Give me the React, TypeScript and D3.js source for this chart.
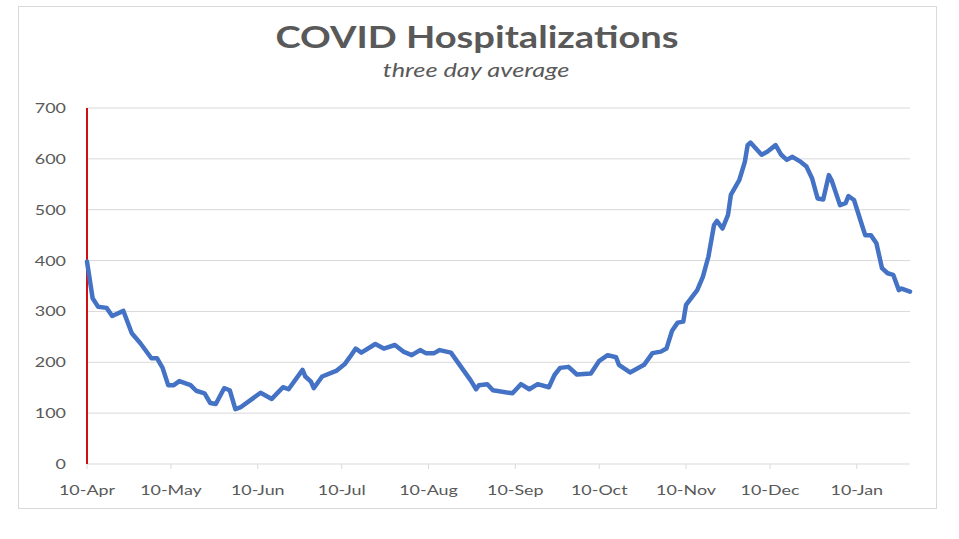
import React from 'react';
import * as d3 from 'd3';

const dates = [
  '2020-04-10', '2020-04-12', '2020-04-14', '2020-04-17', '2020-04-19', '2020-04-23', '2020-04-26', '2020-04-29',
  '2020-05-03', '2020-05-05', '2020-05-07', '2020-05-09', '2020-05-11', '2020-05-13', '2020-05-17', '2020-05-19',
  '2020-05-22', '2020-05-24', '2020-05-26', '2020-05-29', '2020-05-31', '2020-06-02', '2020-06-04', '2020-06-11',
  '2020-06-15', '2020-06-19', '2020-06-21', '2020-06-26', '2020-06-27', '2020-06-29', '2020-06-30', '2020-07-03',
  '2020-07-08', '2020-07-11', '2020-07-13', '2020-07-15', '2020-07-17', '2020-07-22', '2020-07-25', '2020-07-29',
  '2020-08-01', '2020-08-04', '2020-08-07', '2020-08-09', '2020-08-12', '2020-08-14', '2020-08-18', '2020-08-22',
  '2020-08-25', '2020-08-27', '2020-08-28', '2020-08-31', '2020-09-02', '2020-09-09', '2020-09-12', '2020-09-15',
  '2020-09-18', '2020-09-22', '2020-09-24', '2020-09-26', '2020-09-29', '2020-10-02', '2020-10-07', '2020-10-10',
  '2020-10-13', '2020-10-16', '2020-10-17', '2020-10-21', '2020-10-26', '2020-10-29', '2020-11-01', '2020-11-03',
  '2020-11-05', '2020-11-07', '2020-11-09', '2020-11-10', '2020-11-14', '2020-11-16', '2020-11-18', '2020-11-20',
  '2020-11-21', '2020-11-23', '2020-11-25', '2020-11-26', '2020-11-29', '2020-12-01', '2020-12-02', '2020-12-03',
  '2020-12-06', '2020-12-07', '2020-12-09', '2020-12-12', '2020-12-14', '2020-12-16', '2020-12-18', '2020-12-21',
  '2020-12-23', '2020-12-25', '2020-12-27', '2020-12-29', '2020-12-31', '2021-01-01', '2021-01-04', '2021-01-06',
  '2021-01-07', '2021-01-09', '2021-01-12', '2021-01-13', '2021-01-15', '2021-01-17', '2021-01-19', '2021-01-21',
  '2021-01-23', '2021-01-25', '2021-01-26', '2021-01-29',
];

const hospitalizations = [
  398, 326, 309, 307, 291, 301, 257, 238,
  208, 208, 189, 155, 155, 163, 155, 144,
  139, 120, 118, 149, 145, 108, 112, 140,
  128, 151, 147, 185, 172, 162, 149, 172,
  183, 196, 211, 227, 219, 236, 227, 234,
  221, 214, 224, 218, 218, 224, 219, 188,
  165, 147, 155, 157, 145, 139, 157, 147,
  157, 151, 175, 189, 191, 176, 178, 203,
  214, 210, 195, 180, 195, 218, 221, 227,
  262, 278, 280, 313, 342, 368, 408, 470,
  478, 463, 490, 529, 558, 594, 627, 632,
  614, 608, 614, 627, 608, 598, 604, 594,
  585, 562, 522, 520, 568, 558, 509, 513,
  527, 519, 467, 450, 450, 434, 385, 375,
  372, 342, 345, 339,
];

const tickDates = [
  '2020-04-10', '2020-05-10', '2020-06-10', '2020-07-10', '2020-08-10',
  '2020-09-10', '2020-10-10', '2020-11-10', '2020-12-10', '2021-01-10',
];
const tickLabels = ['10-Apr', '10-May', '10-Jun', '10-Jul', '10-Aug', '10-Sep', '10-Oct', '10-Nov', '10-Dec', '10-Jan'];
const yTicks = [0, 100, 200, 300, 400, 500, 600, 700];

const W = 959;
const H = 539;
const plot = { left: 87, right: 910, top: 108, bottom: 464 };
const font = 'Lato, "Liberation Sans", sans-serif';

const parse = d3.utcParse('%Y-%m-%d');

// the original picture is stretched sideways, so text gets the same stretch
const Label = ({ x, y, anchor, size, children, weight, italic, sx = 1.28 }: any) => (
  <g transform={`translate(${x},${y}) scale(${sx},1)`}>
    <text textAnchor={anchor} fontFamily={font} fontSize={size} fontWeight={weight} fontStyle={italic ? 'italic' : undefined} fill="#595959">
      {children}
    </text>
  </g>
);

export default function App() {
  const points = dates.map((d, i) => ({ date: parse(d) as Date, value: hospitalizations[i] }));

  const x = d3.scaleUtc()
    .domain([parse('2020-04-10') as Date, parse('2021-01-29') as Date])
    .range([plot.left, plot.right]);
  const y = d3.scaleLinear().domain([0, 700]).range([plot.bottom, plot.top]);

  const line = d3.line<{ date: Date; value: number }>()
    .x(d => x(d.date))
    .y(d => y(d.value));

  return (
    <svg width={W} height={H} style={{ position: 'absolute', left: 0, top: 0, background: '#fff' }}>
      <rect x={18.5} y={6.5} width={918} height={502} fill="#fff" stroke="#d9d9d9" />

      <Label x={477} y={48} anchor="middle" size={31} weight="bold" sx={1.23}>COVID Hospitalizations</Label>
      <Label x={476} y={77} anchor="middle" size={19.5} italic sx={1.3}>three day average</Label>

      {yTicks.map(t => (
        <g key={t}>
          {t > 0 && <line x1={plot.left} x2={plot.right} y1={y(t)} y2={y(t)} stroke="#d9d9d9" strokeWidth={1} />}
          <Label x={66} y={y(t) + 5} anchor="end" size={14}>{t}</Label>
        </g>
      ))}

      <line x1={plot.left} x2={plot.right} y1={y(0)} y2={y(0)} stroke="#d9d9d9" strokeWidth={1} />
      {tickDates.map((d, i) => {
        const tx = x(parse(d) as Date);
        return (
          <g key={d}>
            <line x1={tx} x2={tx} y1={y(0)} y2={y(0) + 5} stroke="#d9d9d9" />
            <Label x={tx} y={495} anchor="middle" size={14}>{tickLabels[i]}</Label>
          </g>
        );
      })}

      <line x1={plot.left} x2={plot.left} y1={plot.top} y2={plot.bottom} stroke="#d01010" strokeWidth={2} />

      <path d={line(points) ?? ''} fill="none" stroke="#4472c4" strokeWidth={4.5} strokeLinejoin="round" strokeLinecap="round" />
    </svg>
  );
}
